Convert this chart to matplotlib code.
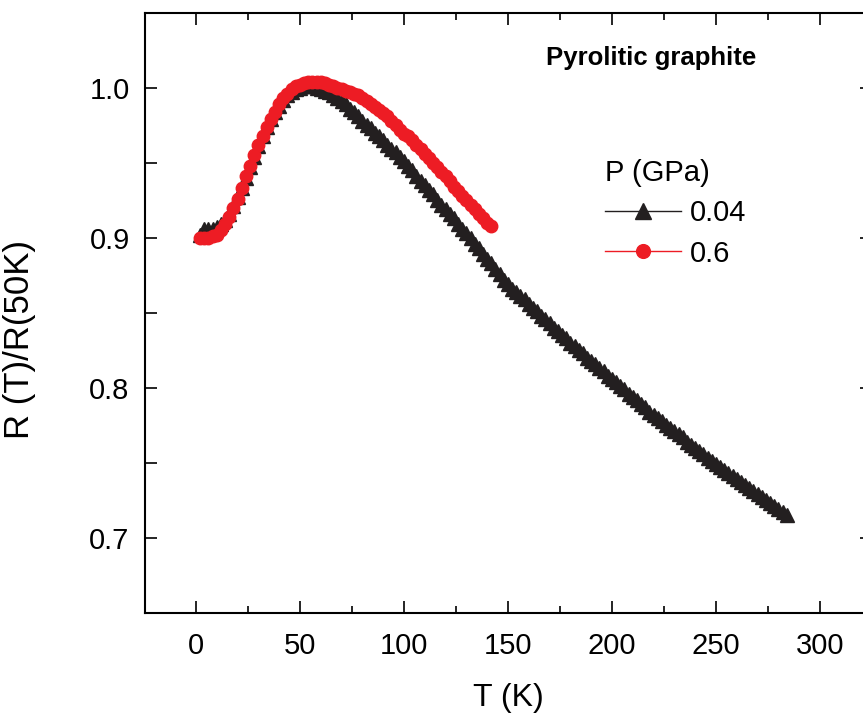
import matplotlib.pyplot as plt
from matplotlib.ticker import MultipleLocator

# temperature grid (K) and normalised resistance R(T)/R(50K)
t_004 = list(range(2, 286, 2))
r_004 = [0.902, 0.906, 0.906, 0.906, 0.907, 0.909, 0.912, 0.916, 0.921, 0.927,
         0.933, 0.940, 0.947, 0.954, 0.961, 0.968, 0.974, 0.979, 0.984, 0.988,
         0.992, 0.995, 0.997, 0.999, 1.000, 1.001, 1.001, 1.001, 1.000,
         0.999, 0.998, 0.997, 0.995, 0.993, 0.991, 0.989, 0.986, 0.984, 0.981,
         0.978, 0.975, 0.973, 0.970, 0.968, 0.965, 0.962, 0.959, 0.957, 0.954,
         0.951, 0.948, 0.945, 0.941, 0.938, 0.935, 0.932, 0.929, 0.925, 0.922,
         0.919, 0.916, 0.913, 0.909, 0.906, 0.903, 0.900, 0.896, 0.893, 0.889,
         0.886, 0.883, 0.879, 0.876, 0.872, 0.869,
         0.866, 0.864, 0.861, 0.859, 0.856, 0.853, 0.851, 0.848, 0.846, 0.843,
         0.840, 0.838, 0.835, 0.833, 0.830, 0.828, 0.825, 0.823, 0.820, 0.818,
         0.816, 0.813, 0.811, 0.808, 0.806, 0.804, 0.801, 0.799, 0.796, 0.794,
         0.792, 0.789, 0.787, 0.784, 0.782, 0.780, 0.778, 0.775, 0.773, 0.771,
         0.769, 0.767, 0.764, 0.762, 0.760, 0.758, 0.756, 0.753, 0.751, 0.749,
         0.747, 0.745, 0.743, 0.741, 0.739, 0.737, 0.735, 0.733, 0.731, 0.729,
         0.727, 0.725, 0.723, 0.721, 0.719, 0.717, 0.715]

t_06 = list(range(2, 144, 2))
r_06 = [0.900, 0.900, 0.900, 0.901, 0.902, 0.905, 0.909, 0.914, 0.920, 0.926,
        0.933, 0.941, 0.948, 0.955, 0.962, 0.968, 0.974, 0.979, 0.984, 0.989,
        0.993, 0.996, 0.999, 1.001, 1.002, 1.003, 1.004, 1.004, 1.004, 1.004,
        1.003, 1.002, 1.001, 1.000, 0.999, 0.998, 0.997, 0.996, 0.995, 0.993,
        0.991, 0.989, 0.987, 0.985, 0.983, 0.981, 0.978, 0.975, 0.972, 0.969,
        0.968, 0.965, 0.962, 0.959, 0.956, 0.953, 0.950, 0.947, 0.944, 0.941,
        0.938, 0.934, 0.931, 0.928, 0.925, 0.922, 0.919, 0.916, 0.913, 0.910,
        0.908]

x_ticks = [0, 50, 100, 150, 200, 250, 300]
y_ticks = [0.7, 0.8, 0.9, 1.0]

plt.rcParams['font.family'] = ['Liberation Sans', 'DejaVu Sans']

fig = plt.figure(figsize=(8.63, 7.15), dpi=100)
ax = fig.add_axes([0.168, 0.1427, 0.8424, 0.8392])

ax.plot(t_004, r_004, color='#231f20', marker='^', markersize=10.5, lw=1, label='0.04')
ax.plot(t_06, r_06, color='#ed1c24', marker='o', markersize=9, lw=1, label='0.6')

ax.set_xlim(-24.5, 325)
ax.set_ylim(0.65, 1.05)
ax.set_xticks(x_ticks)
ax.set_yticks(y_ticks)
ax.set_yticklabels(['0.7', '0.8', '0.9', '1.0'])
ax.xaxis.set_minor_locator(MultipleLocator(25))
ax.yaxis.set_minor_locator(MultipleLocator(0.05))

for s in ax.spines.values():
    s.set_linewidth(1.5)
ax.tick_params(which='both', direction='in', top=True, right=True, width=1.2, labelsize=21)
ax.tick_params(axis='y', pad=11)
ax.tick_params(axis='x', pad=14)
ax.tick_params(which='major', length=8.5)
ax.tick_params(axis='x', which='minor', length=5)
ax.tick_params(axis='y', which='minor', length=8.5, right=False)

ax.set_xlabel('T (K)', fontsize=23, labelpad=16)
ax.set_ylabel('R (T)/R(50K)', fontsize=25)
ax.yaxis.set_label_coords(-0.150, 0.455)

ax.text(0.552, 0.925, 'Pyrolitic graphite', transform=ax.transAxes, fontsize=18.5,
        fontweight='bold', va='center', ha='left')

leg = ax.legend(title='P (GPa)', loc='upper left', bbox_to_anchor=(0.597, 0.80),
                frameon=False, numpoints=1, fontsize=21, title_fontsize=21,
                handlelength=2.6, handletextpad=0.3, labelspacing=0.42,
                alignment='left', markerscale=1.1)

fig.savefig('out.png', dpi=100, facecolor='white')
